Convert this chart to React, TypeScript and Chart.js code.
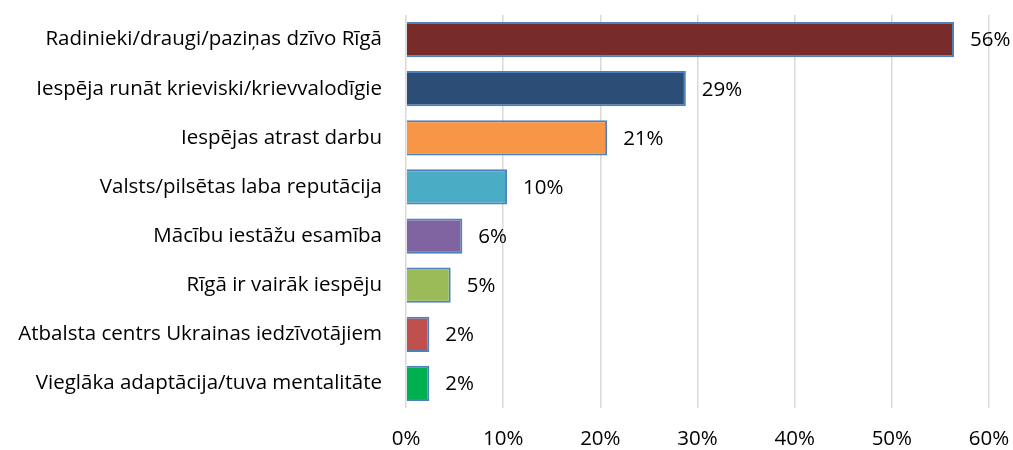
import React, { useEffect, useRef } from "react";
import { Chart, registerables } from "chart.js";

Chart.register(...registerables);

const categories = [
  "Radinieki/draugi/paziņas dzīvo Rīgā",
  "Iespēja runāt krieviski/krievvalodīgie",
  "Iespējas atrast darbu",
  "Valsts/pilsētas laba reputācija",
  "Mācību iestāžu esamība",
  "Rīgā ir vairāk iespēju",
  "Atbalsta centrs Ukrainas iedzīvotājiem",
  "Vieglāka adaptācija/tuva mentalitāte",
];
const values = [56.4, 28.8, 20.7, 10.4, 5.8, 4.6, 2.4, 2.4];
const barColors = ["#772C2A", "#2C4D75", "#F79646", "#4BACC6", "#8064A2", "#9BBB59", "#C0504D", "#00B050"];
const xTicks = [0, 10, 20, 30, 40, 50, 60];

const FONT = "'Open Sans', sans-serif";
const FS = 20.5;

const labelPlugin = {
  id: "barLabels",
  afterDatasetsDraw(chart: any) {
    const ctx = chart.ctx;
    const meta = chart.getDatasetMeta(0);
    ctx.save();
    ctx.font = `${FS}px ${FONT}`;
    ctx.fillStyle = "#000";
    ctx.textBaseline = "middle";
    ctx.textAlign = "left";
    meta.data.forEach((bar: any, i: number) => {
      ctx.fillText(Math.round(values[i]) + "%", bar.x + 16, bar.y + 1);
    });
    ctx.restore();
  },
};

export default function App() {
  const ref = useRef<HTMLCanvasElement>(null);
  useEffect(() => {
    const chart = new Chart(ref.current!, {
      type: "bar",
      data: {
        labels: categories,
        datasets: [
          {
            data: values,
            backgroundColor: barColors,
            borderColor: "#4F81BD",
            borderWidth: 2,
            barPercentage: 0.72,
            categoryPercentage: 1,
          },
        ],
      },
      options: {
        indexAxis: "y",
        animation: false,
        responsive: false,
        layout: { padding: { top: 15, right: 24, left: 0, bottom: 0 } },
        plugins: { legend: { display: false }, tooltip: { enabled: false } },
        scales: {
          x: {
            min: 0,
            max: 60,
            afterBuildTicks(scale: any) {
              scale.ticks = xTicks.map((v) => ({ value: v }));
            },
            afterFit(scale: any) {
              scale.height = 42;
              scale.paddingLeft = 0;
              scale.paddingRight = 0;
            },
            grid: { color: "#D9D9D9", lineWidth: 1.5, drawTicks: false },
            border: { display: false },
            ticks: {
              color: "#000",
              font: { family: FONT, size: FS },
              padding: 19,
              callback: (v: any) => v + "%",
            },
          },
          y: {
            afterFit(scale: any) {
              scale.width = 406;
              scale.paddingTop = 0;
              scale.paddingBottom = 0;
            },
            grid: { display: false },
            border: { display: false },
            ticks: {
              color: "#000",
              font: { family: FONT, size: FS },
              padding: 16,
            },
          },
        },
      },
      plugins: [labelPlugin],
    });
    return () => chart.destroy();
  }, []);
  return (
    <div style={{ position: "absolute", left: 0, top: 0, width: 1013, height: 450, background: "#fff" }}>
      <canvas ref={ref} width={1013} height={450} />
    </div>
  );
}
